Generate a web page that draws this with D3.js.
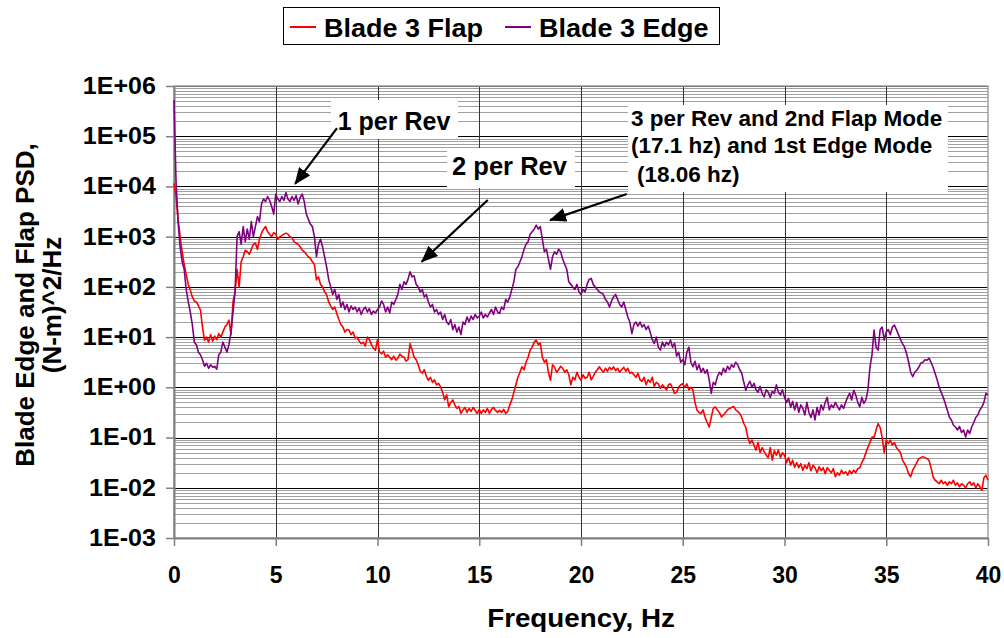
<!DOCTYPE html>
<html>
<head>
<meta charset="utf-8">
<script src="https://cdn.jsdelivr.net/npm/d3@7/dist/d3.min.js"></script>
<style>
body { margin: 0; background: #fff; }
text { font-family: "Liberation Sans", Arial, sans-serif; font-weight: bold; fill: #000; }
</style>
</head>
<body>
<div id="chart"></div>
<script>
'use strict';

// frequency spacing of the PSD samples (Hz)
var FREQ_STEP = 0.1;

// log10 of PSD, one row per Hz (0.0 .. 0.9, 1.0 .. 1.9, ...), last value is 40 Hz
var flapExp = [
  4.06, 3.8, 3.35, 3.0, 2.7, 2.45, 2.25, 2.05, 1.94, 1.8,
  1.72, 1.7, 1.62, 1.54, 1.2, 0.94, 1.0, 0.9, 1.05, 0.92,
  1.02, 0.95, 1.07, 1.0, 1.1, 1.2, 1.25, 1.34, 1.05, 1.7,
  1.9, 2.35, 2.0, 2.5, 2.6, 2.73, 2.7, 2.65, 2.75, 2.85,
  2.87, 2.75, 2.95, 3.07, 3.15, 3.2, 3.1, 3.05, 3.0, 3.08,
  3.05, 2.95, 3.0, 3.02, 3.05, 3.07, 3.05, 3.0, 2.98, 2.9,
  2.87, 2.85, 2.8, 2.73, 2.7, 2.65, 2.6, 2.57, 2.5, 2.45,
  2.14, 2.2, 2.05, 2.0, 1.9, 1.85, 1.7, 1.62, 1.55, 1.6,
  1.47, 1.35, 1.25, 1.2, 1.1, 1.15, 1.14, 1.05, 1.1, 0.98,
  1.0, 0.92, 0.87, 0.9, 0.82, 1.0, 0.95, 0.85, 0.78, 0.74,
  0.95, 0.7, 0.67, 0.72, 0.6, 0.65, 0.6, 0.55, 0.62, 0.54,
  0.58, 0.66, 0.62, 0.6, 0.52, 0.55, 0.87, 0.75, 0.6, 0.55,
  0.45, 0.32, 0.28, 0.35, 0.22, 0.14, 0.2, 0.1, 0.15, 0.05,
  0.08, 0.01, -0.1, -0.25, -0.15, -0.39, -0.3, -0.25, -0.35, -0.42,
  -0.38, -0.52, -0.45, -0.4, -0.5, -0.42, -0.48, -0.4, -0.46, -0.52,
  -0.44, -0.52, -0.45, -0.5, -0.42, -0.52, -0.44, -0.4, -0.46, -0.5,
  -0.46, -0.5, -0.44, -0.52, -0.48, -0.35, -0.25, -0.1, 0.05, 0.2,
  0.3, 0.41, 0.35, 0.5, 0.6, 0.74, 0.8, 0.9, 0.94, 0.85,
  0.88, 0.6, 0.5, 0.55, 0.3, 0.14, 0.45, 0.4, 0.3, 0.35,
  0.42, 0.38, 0.3, 0.35, 0.25, 0.05, 0.2, 0.15, 0.3, 0.2,
  0.14, 0.25, 0.18, 0.2, 0.3, 0.15, 0.22, 0.3, 0.35, 0.41,
  0.35, 0.3, 0.38, 0.32, 0.4, 0.35, 0.41, 0.33, 0.38, 0.3,
  0.35, 0.4, 0.32, 0.38, 0.28, 0.3, 0.25, 0.2, 0.28, 0.15,
  0.12, 0.2, 0.05, 0.15, 0.1, 0.2, 0.02, 0.1, 0.07, -0.02,
  0.05, 0.0, -0.05, 0.05, 0.07, -0.02, -0.12, -0.1, 0.0, 0.05,
  0.07, 0.0, 0.07, -0.05, 0.0, -0.05, -0.3, -0.45, -0.5, -0.52,
  -0.45, -0.6, -0.7, -0.79, -0.6, -0.42, -0.39, -0.45, -0.5, -0.59,
  -0.55, -0.5, -0.45, -0.42, -0.4, -0.38, -0.45, -0.48, -0.52, -0.6,
  -0.72, -0.8, -1.0, -1.12, -1.05, -1.15, -1.25, -1.1, -1.3, -1.2,
  -1.28, -1.35, -1.4, -1.2, -1.45, -1.26, -1.35, -1.25, -1.4, -1.3,
  -1.35, -1.5, -1.4, -1.55, -1.45, -1.59, -1.5, -1.6, -1.52, -1.65,
  -1.55, -1.62, -1.5, -1.66, -1.55, -1.6, -1.7, -1.58, -1.66, -1.6,
  -1.72, -1.6, -1.65, -1.7, -1.62, -1.78, -1.7, -1.75, -1.65, -1.72,
  -1.68, -1.75, -1.66, -1.72, -1.65, -1.7, -1.62, -1.6, -1.5, -1.42,
  -1.3, -1.19, -1.1, -0.99, -1.0, -0.85, -0.72, -0.8, -1.0, -1.3,
  -1.05, -1.12, -1.05, -1.15, -1.1, -1.2, -1.25, -1.3, -1.45, -1.52,
  -1.6, -1.72, -1.78, -1.65, -1.58, -1.5, -1.42, -1.4, -1.38, -1.4,
  -1.42, -1.45, -1.6, -1.78, -1.85, -1.88, -1.92, -1.85, -1.92, -1.88,
  -1.95, -1.88, -1.92, -1.85, -1.95, -1.9, -1.98, -1.92, -1.95, -2.0,
  -1.92, -1.88, -1.95, -1.9, -2.0, -1.92, -1.98, -2.05, -1.8, -1.75,
  -1.85
];

var edgeExp = [
  5.72, 4.1, 3.3, 2.8, 2.5, 2.35, 1.95, 1.7, 1.5, 1.25,
  0.9, 0.85, 0.7, 0.65, 0.55, 0.42, 0.48, 0.38, 0.45, 0.4,
  0.42, 0.36, 0.65, 0.7, 0.9, 0.8, 0.7, 0.85, 1.1, 1.5,
  1.9, 3.0, 3.1, 2.85, 3.2, 2.9, 3.15, 2.95, 3.3, 3.0,
  3.2, 3.4, 3.3, 3.65, 3.75, 3.7, 3.8, 3.72, 3.6, 3.45,
  3.85, 3.75, 3.7, 3.8, 3.72, 3.88, 3.75, 3.7, 3.8, 3.72,
  3.82, 3.65, 3.78, 3.85, 3.7, 3.45, 3.35, 3.25, 3.2, 3.0,
  2.6, 2.85, 2.95, 2.8, 2.6, 2.4, 2.15, 2.0, 1.85, 1.95,
  1.75, 1.85, 1.6, 1.7, 1.55, 1.65, 1.5, 1.62, 1.55, 1.6,
  1.5, 1.58, 1.45, 1.55, 1.6, 1.5, 1.57, 1.45, 1.52, 1.48,
  1.55, 1.6, 1.72, 1.65, 1.5, 1.6, 1.48, 1.7, 1.65, 1.75,
  1.85, 2.05, 1.95, 2.1, 2.05, 2.15, 2.3, 2.2, 2.22, 2.05,
  2.0, 1.9, 1.95, 1.8, 1.85, 1.7, 1.6, 1.65, 1.5, 1.55,
  1.45, 1.5, 1.35, 1.45, 1.3, 1.25, 1.35, 1.15, 1.25, 1.1,
  1.2, 1.05, 1.3, 1.25, 1.4, 1.3, 1.42, 1.35, 1.45, 1.38,
  1.42, 1.5, 1.38, 1.45, 1.4, 1.48, 1.55, 1.45, 1.6, 1.5,
  1.47, 1.6, 1.55, 1.75, 1.7, 1.8, 1.95, 2.1, 2.35, 2.4,
  2.5, 2.6, 2.75, 2.85, 2.9, 3.05, 3.1, 3.15, 3.23, 3.15,
  3.2, 2.95, 2.7, 2.75, 2.55, 2.35, 2.6, 2.7, 2.65, 2.75,
  2.7, 2.55, 2.45, 2.35, 2.1, 2.05, 2.0, 1.95, 2.05, 1.9,
  1.85, 1.95, 1.9, 2.05, 2.15, 2.17, 2.05, 2.0, 1.95, 1.9,
  1.88, 1.85, 1.75, 1.7, 1.6, 1.72, 1.8, 1.85, 1.75, 1.65,
  1.6, 1.7, 1.55, 1.4, 1.3, 1.07, 1.25, 1.3, 1.22, 1.3,
  1.2, 1.25, 1.15, 1.22, 1.1, 0.95, 0.87, 1.0, 0.8, 0.74,
  0.9, 0.81, 0.9, 0.85, 0.94, 0.8, 0.88, 0.62, 0.7, 0.5,
  0.55, 0.45, 0.7, 0.8, 0.5, 0.41, 0.52, 0.35, 0.45, 0.3,
  0.38, 0.28, 0.35, 0.15, -0.12, 0.1, 0.05, 0.21, 0.3, 0.25,
  0.38, 0.3, 0.42, 0.35, 0.45, 0.4, 0.5, 0.45, 0.35, 0.28,
  0.1, -0.06, 0.05, 0.12, 0.0, 0.08, -0.05, -0.1, 0.02, -0.12,
  -0.19, -0.05, -0.1, -0.2, -0.08, -0.12, 0.05, -0.1, -0.15, -0.05,
  -0.2, -0.3, -0.22, -0.4, -0.28, -0.45, -0.3, -0.5, -0.35, -0.42,
  -0.55, -0.3, -0.5, -0.6, -0.45, -0.65, -0.4, -0.55, -0.35, -0.45,
  -0.3, -0.2, -0.45, -0.35, -0.4, -0.3, -0.38, -0.45, -0.35, -0.42,
  -0.3, -0.2, -0.12, -0.25, -0.06, -0.15, -0.3, -0.39, -0.2, -0.32,
  -0.25, -0.05, 0.4, 0.65, 1.14, 0.8, 0.74, 1.15, 1.2, 0.94,
  1.1, 1.15, 1.05, 1.2, 1.24, 1.15, 1.05, 0.95, 0.87, 0.8,
  0.67, 0.5, 0.3, 0.21, 0.3, 0.34, 0.4, 0.48, 0.5, 0.55,
  0.54, 0.58, 0.5, 0.4, 0.28, 0.15, 0.0, -0.1, -0.2, -0.32,
  -0.45, -0.59, -0.65, -0.75, -0.79, -0.85, -0.78, -0.9, -0.85, -0.99,
  -0.85, -0.92, -0.79, -0.7, -0.6, -0.55, -0.45, -0.39, -0.3, -0.12,
  -0.15
];

var seriesNames = ['Blade 3 Flap', 'Blade 3 Edge'];
var seriesColors = ['#ff0000', '#800080'];
var xTicks = [0, 5, 10, 15, 20, 25, 30, 35, 40];
var yExponents = [-3, -2, -1, 0, 1, 2, 3, 4, 5, 6];

var xTitle = 'Frequency, Hz';
var yTitle = ['Blade Edge and Flap PSD,', '(N-m)^2/Hz'];

// annotation arrows, [Hz, log10 PSD] for tail and tip
var arrows = [
  { from: [8.01, 5.16], to: [5.95, 4.05] },
  { from: [15.42, 3.73], to: [12.17, 2.5] },
  { from: [22.25, 3.85], to: [18.48, 3.33] }
];

var W = 1004, H = 638;
var plot = { left: 174, right: 988, top: 86, bottom: 538 };

var svg = d3.select('#chart')
    .append('svg')
    .attr('width', W)
    .attr('height', H);

var x = d3.scaleLinear().domain([0, 40]).range([plot.left, plot.right]);
var y = d3.scaleLog().domain([1e-3, 1e6]).range([plot.bottom, plot.top]);

function toSeries(exps) {
    return exps.map(function(v, i) {
        return { f: i * FREQ_STEP, psd: Math.pow(10, v) };
    });
}
var series = [toSeries(flapExp), toSeries(edgeExp)];

function stretch(sel, k) {
    sel.each(function() {
        var w = this.getComputedTextLength();
        this.setAttribute('textLength', w * k);
        this.setAttribute('lengthAdjust', 'spacingAndGlyphs');
    });
}

// minor grid
var minor = [];
yExponents.slice(0, -1).forEach(function(e) {
    for (var k = 2; k <= 9; k++) minor.push(k * Math.pow(10, e));
});
svg.append('g').selectAll('line')
    .data(minor)
    .enter().append('line')
    .attr('x1', plot.left).attr('x2', plot.right)
    .attr('y1', function(d) { return Math.round(y(d)) + 0.5; })
    .attr('y2', function(d) { return Math.round(y(d)) + 0.5; })
    .attr('stroke', '#a0a0a0')
    .attr('stroke-width', 1);

// major grid
svg.append('g').selectAll('line')
    .data(yExponents)
    .enter().append('line')
    .attr('x1', plot.left).attr('x2', plot.right)
    .attr('y1', function(d) { return Math.round(y(Math.pow(10, d))) + 0.5; })
    .attr('y2', function(d) { return Math.round(y(Math.pow(10, d))) + 0.5; })
    .attr('stroke', '#000')
    .attr('stroke-width', 1);

svg.append('g').selectAll('line')
    .data(xTicks.slice(1, -1))
    .enter().append('line')
    .attr('x1', function(d) { return Math.round(x(d)) + 0.5; })
    .attr('x2', function(d) { return Math.round(x(d)) + 0.5; })
    .attr('y1', plot.top).attr('y2', plot.bottom)
    .attr('stroke', '#333')
    .attr('stroke-width', 1);

// plot frame (top/right)
svg.append('rect')
    .attr('x', plot.left).attr('y', plot.top)
    .attr('width', plot.right - plot.left)
    .attr('height', plot.bottom - plot.top)
    .attr('fill', 'none')
    .attr('stroke', '#a0a0a0')
    .attr('stroke-width', 1.5);

// axes
function fmtExp(d) {
    var e = Math.round(Math.log10(d));
    return '1E' + (e < 0 ? '-' : '+') + ('0' + Math.abs(e)).slice(-2);
}

var yAxis = svg.append('g')
    .attr('transform', 'translate(' + plot.left + ',0)')
    .call(d3.axisLeft(y)
        .tickValues(yExponents.map(function(e) { return Math.pow(10, e); }))
        .tickFormat(fmtExp)
        .tickSize(8)
        .tickSizeOuter(0)
        .tickPadding(10));
yAxis.selectAll('text')
    .style('font-size', '23px')
    .style('font-family', '"Liberation Sans", Arial, sans-serif')
    .style('font-weight', 'bold');
stretch(yAxis.selectAll('text'), 1.09);

var xAxis = svg.append('g')
    .attr('transform', 'translate(0,' + plot.bottom + ')')
    .call(d3.axisBottom(x)
        .tickValues(xTicks)
        .tickSize(8)
        .tickSizeOuter(0)
        .tickPadding(21));
xAxis.selectAll('text')
    .style('font-size', '23px')
    .style('font-family', '"Liberation Sans", Arial, sans-serif')
    .style('font-weight', 'bold');

[yAxis, xAxis].forEach(function(a) {
    a.select('.domain').attr('stroke', '#808080').attr('stroke-width', 2);
    a.selectAll('.tick line').attr('stroke', '#808080').attr('stroke-width', 1.5);
});

// curves
var line = d3.line()
    .x(function(d) { return x(d.f); })
    .y(function(d) { return y(d.psd); });

svg.append('g').selectAll('path')
    .data(series)
    .enter().append('path')
    .attr('d', line)
    .attr('fill', 'none')
    .attr('stroke', function(d, i) { return seriesColors[i]; })
    .attr('stroke-width', 1.6)
    .attr('stroke-linejoin', 'round');

// axis titles
svg.append('text')
    .attr('x', 581).attr('y', 627)
    .attr('text-anchor', 'middle')
    .style('font-size', '25px')
    .text(xTitle)
    .call(stretch, 1.11);

svg.selectAll('.ytitle')
    .data(yTitle)
    .enter().append('text')
    .attr('class', 'ytitle')
    .attr('text-anchor', 'middle')
    .attr('transform', function(d, i) { return 'translate(' + (34 + i * 27) + ',305) rotate(-90)'; })
    .style('font-size', '26px')
    .text(function(d) { return d; });

// legend
var legend = svg.append('g');
legend.append('rect')
    .attr('x', 283.5).attr('y', 7.5)
    .attr('width', 436).attr('height', 37)
    .attr('fill', '#fff')
    .attr('stroke', '#000')
    .attr('stroke-width', 1);
var legendX = [290, 505];
seriesNames.forEach(function(name, i) {
    legend.append('line')
        .attr('x1', legendX[i]).attr('x2', legendX[i] + 26)
        .attr('y1', 27).attr('y2', 27)
        .attr('stroke', seriesColors[i])
        .attr('stroke-width', 2);
    legend.append('text')
        .attr('x', legendX[i] + 34).attr('y', 36.5)
        .style('font-size', '25px')
        .text(name)
        .call(stretch, 1.08);
});

// annotation boxes
var notes = [
    { box: [331, 100, 127, 39], size: 25, anchor: 'middle', lines: [[394, 129.5, '1 per Rev']] },
    { box: [447, 148, 128, 40], size: 25.5, anchor: 'middle', lines: [[509.5, 174.5, '2 per Rev']] },
    { box: [628, 105, 320, 87], size: 22.5, anchor: 'start', lines: [
        [631, 125.7, '3 per Rev and 2nd Flap Mode'],
        [631, 153.3, '(17.1 hz) and 1st Edge Mode'],
        [637, 181.7, '(18.06 hz)']] }
];
notes.forEach(function(n) {
    svg.append('rect')
        .attr('x', n.box[0]).attr('y', n.box[1])
        .attr('width', n.box[2]).attr('height', n.box[3])
        .attr('fill', '#fff');
    n.lines.forEach(function(l) {
        svg.append('text')
            .attr('x', l[0]).attr('y', l[1])
            .attr('text-anchor', n.anchor)
            .style('font-size', n.size + 'px')
            .text(l[2]);
    });
});

// arrows
svg.append('defs').append('marker')
    .attr('id', 'head')
    .attr('viewBox', '0 0 17 14')
    .attr('refX', 16).attr('refY', 7)
    .attr('markerWidth', 17).attr('markerHeight', 14)
    .attr('markerUnits', 'userSpaceOnUse')
    .attr('orient', 'auto')
    .append('path')
    .attr('d', 'M0,0 L17,7 L0,14 Z')
    .attr('fill', '#000');

svg.append('g').selectAll('line')
    .data(arrows)
    .enter().append('line')
    .attr('x1', function(d) { return x(d.from[0]); })
    .attr('y1', function(d) { return y(Math.pow(10, d.from[1])); })
    .attr('x2', function(d) { return x(d.to[0]); })
    .attr('y2', function(d) { return y(Math.pow(10, d.to[1])); })
    .attr('stroke', '#000')
    .attr('stroke-width', 2.2)
    .attr('marker-end', 'url(#head)');
</script>
</body>
</html>
